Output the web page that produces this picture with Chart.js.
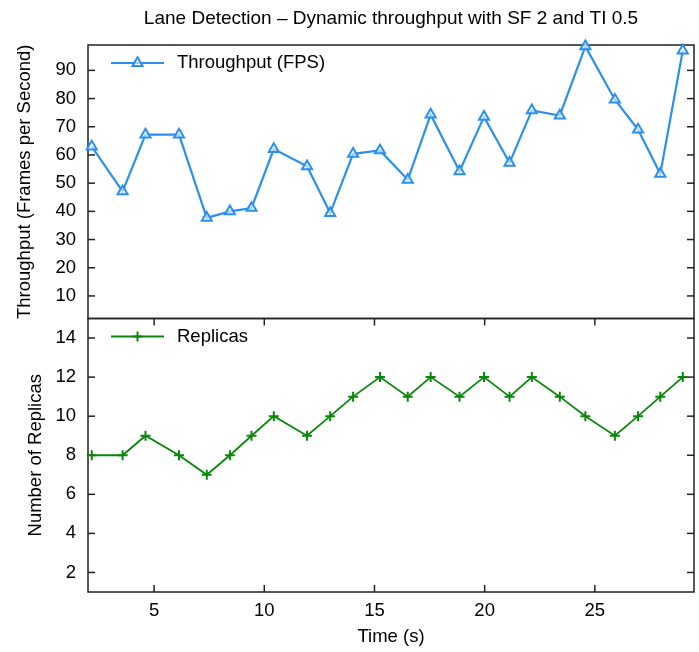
<!DOCTYPE html>
<html>
<head>
<meta charset="utf-8">
<script src="https://cdn.jsdelivr.net/npm/chart.js@4/dist/chart.umd.min.js"></script>
<style>
  html, body { margin: 0; padding: 0; background: #fff; }
  #wrap { width: 699px; height: 652px; }
</style>
</head>
<body>
<div id="wrap"><canvas id="chart" width="699" height="652"></canvas></div>
<script>
// data
const timeS = [2.17, 3.57, 4.61, 6.13, 7.39, 8.44, 9.42, 10.43, 11.94, 12.99, 14.03, 15.25,
               16.51, 17.55, 18.86, 19.97, 21.13, 22.14, 23.41, 24.57, 25.91, 26.96, 27.97, 28.99];
const throughput = [63.0, 47.1, 67.2, 67.2, 37.7, 40.0, 41.2, 62.1, 56.0, 39.4, 60.4, 61.6,
                    51.2, 74.3, 54.2, 73.5, 57.2, 75.8, 74.0, 98.5, 79.6, 69.0, 53.3, 97.0];
const replicas = [8, 8, 9, 8, 7, 8, 9, 10, 9, 10, 11, 12, 11, 12, 11, 12, 11, 12, 11, 10, 9, 10, 11, 12];

const xTicks = [5, 10, 15, 20, 25];
const yTopTicks = [10, 20, 30, 40, 50, 60, 70, 80, 90];
const yBotTicks = [2, 4, 6, 8, 10, 12, 14];

const BLUE = "#2b8ff0", GREEN = "#0a870a", FRAME = "#222", TICK = 7;
const FONT = "'Liberation Sans', Arial, sans-serif";

Chart.defaults.font.family = FONT;
Chart.defaults.font.size = 18.5;
Chart.defaults.color = "#000";

function line(ctx, x1, y1, x2, y2) {
  ctx.beginPath(); ctx.moveTo(x1, y1); ctx.lineTo(x2, y2); ctx.stroke();
}

// gnuplot-like frames with inward ticks
const framePlugin = {
  id: "frame",
  beforeDatasetsDraw(chart) {
    const {ctx, chartArea: ca, scales} = chart;
    ctx.save();
    ctx.strokeStyle = FRAME;
    ctx.lineWidth = 1.5;
    [scales.yT, scales.yB].forEach(s => {
      ctx.strokeRect(ca.left, s.top, ca.right - ca.left, s.bottom - s.top);
      s.ticks.forEach(t => {
        const py = s.getPixelForValue(t.value);
        line(ctx, ca.left, py, ca.left + TICK, py);
        line(ctx, ca.right - TICK, py, ca.right, py);
      });
    });
    const yB = scales.yB;
    scales.x.ticks.forEach(t => {
      const px = scales.x.getPixelForValue(t.value);
      line(ctx, px, yB.bottom, px, yB.bottom - TICK);
      line(ctx, px, yB.top, px, yB.top + TICK);
    });
    ctx.restore();
  },
  afterDatasetsDraw(chart) {
    const {ctx, chartArea: ca, scales} = chart;
    ctx.save();
    chart.data.datasets.forEach(ds => {
      const s = scales[ds.yAxisID];
      const y = s.top + 18, x0 = ca.left + 23, x1 = ca.left + 76, xm = (x0 + x1) / 2;
      ctx.strokeStyle = ds.borderColor;
      ctx.lineWidth = ds.borderWidth;
      line(ctx, x0, y, x1, y);
      const r = ds.pointRadius;
      ctx.lineWidth = ds.pointBorderWidth;
      ctx.beginPath();
      if (ds.pointStyle === "triangle") {
        ctx.moveTo(xm, y - r);
        ctx.lineTo(xm + r * 0.866, y + r / 2);
        ctx.lineTo(xm - r * 0.866, y + r / 2);
        ctx.closePath();
        ctx.fillStyle = ds.pointBackgroundColor;
        ctx.fill();
      } else {
        ctx.moveTo(xm - r, y); ctx.lineTo(xm + r, y);
        ctx.moveTo(xm, y - r); ctx.lineTo(xm, y + r);
      }
      ctx.stroke();
      ctx.fillStyle = "#000";
      ctx.font = "18.5px " + FONT;
      ctx.textBaseline = "middle";
      ctx.textAlign = "left";
      ctx.fillText(ds.label, ca.left + 89, y);
    });
    ctx.restore();
  }
};

const setTicks = arr => scale => { scale.ticks = arr.map(v => ({ value: v })); };

new Chart(document.getElementById("chart"), {
  type: "line",
  data: {
    datasets: [
      {
        label: "Throughput (FPS)",
        data: timeS.map((t, i) => ({ x: t, y: throughput[i] })),
        yAxisID: "yT",
        borderColor: BLUE,
        borderWidth: 2.2,
        pointStyle: "triangle",
        pointRadius: 5.8,
        pointBorderWidth: 2,
        pointBorderColor: BLUE,
        pointBackgroundColor: "rgba(255,255,255,0.6)",
        tension: 0,
        clip: false
      },
      {
        label: "Replicas",
        data: timeS.map((t, i) => ({ x: t, y: replicas[i] })),
        yAxisID: "yB",
        borderColor: GREEN,
        borderWidth: 1.8,
        pointStyle: "cross",
        pointRadius: 5,
        pointBorderWidth: 2,
        pointBorderColor: GREEN,
        pointBackgroundColor: GREEN,
        tension: 0,
        clip: false
      }
    ]
  },
  options: {
    responsive: false,
    animation: false,
    layout: { autoPadding: false, padding: { left: 0, right: 5, top: 0, bottom: 0 } },
    plugins: {
      legend: { display: false },
      tooltip: { enabled: false },
      title: {
        display: true,
        fullSize: false,
        text: "Lane Detection \u2013 Dynamic throughput with SF 2 and TI 0.5",
        color: "#000",
        font: { size: 19, weight: "normal" },
        padding: { top: 7, bottom: 15.2 }
      }
    },
    scales: {
      x: {
        type: "linear",
        position: "bottom",
        min: 2,
        max: 29.5,
        afterBuildTicks: setTicks(xTicks),
        afterFit: s => { s.height = 60; s.paddingLeft = 0; s.paddingRight = 0; },
        grid: { display: false, drawTicks: false },
        border: { display: false },
        ticks: { padding: 8, color: "#000", autoSkip: false },
        title: { display: true, text: "Time (s)", color: "#000", padding: { top: 0, bottom: 4 } }
      },
      yB: {
        type: "linear",
        position: "left",
        stack: "panels",
        stackWeight: 1,
        min: 1,
        max: 15,
        afterBuildTicks: setTicks(yBotTicks),
        afterFit: s => { s.width = 88; },
        grid: { display: false, drawTicks: false },
        border: { display: false },
        ticks: { padding: 12, color: "#000", autoSkip: false },
        title: { display: true, text: "Number of Replicas", color: "#000", padding: { top: 25, bottom: 0 } }
      },
      yT: {
        type: "linear",
        position: "left",
        stack: "panels",
        stackWeight: 1,
        min: 2,
        max: 99,
        afterBuildTicks: setTicks(yTopTicks),
        afterFit: s => { s.width = 88; },
        grid: { display: false, drawTicks: false },
        border: { display: false },
        ticks: { padding: 12, color: "#000", autoSkip: false },
        title: { display: true, text: "Throughput (Frames per Second)", color: "#000", padding: { top: 14, bottom: 0 } }
      }
    }
  },
  plugins: [framePlugin]
});
</script>
</body>
</html>
